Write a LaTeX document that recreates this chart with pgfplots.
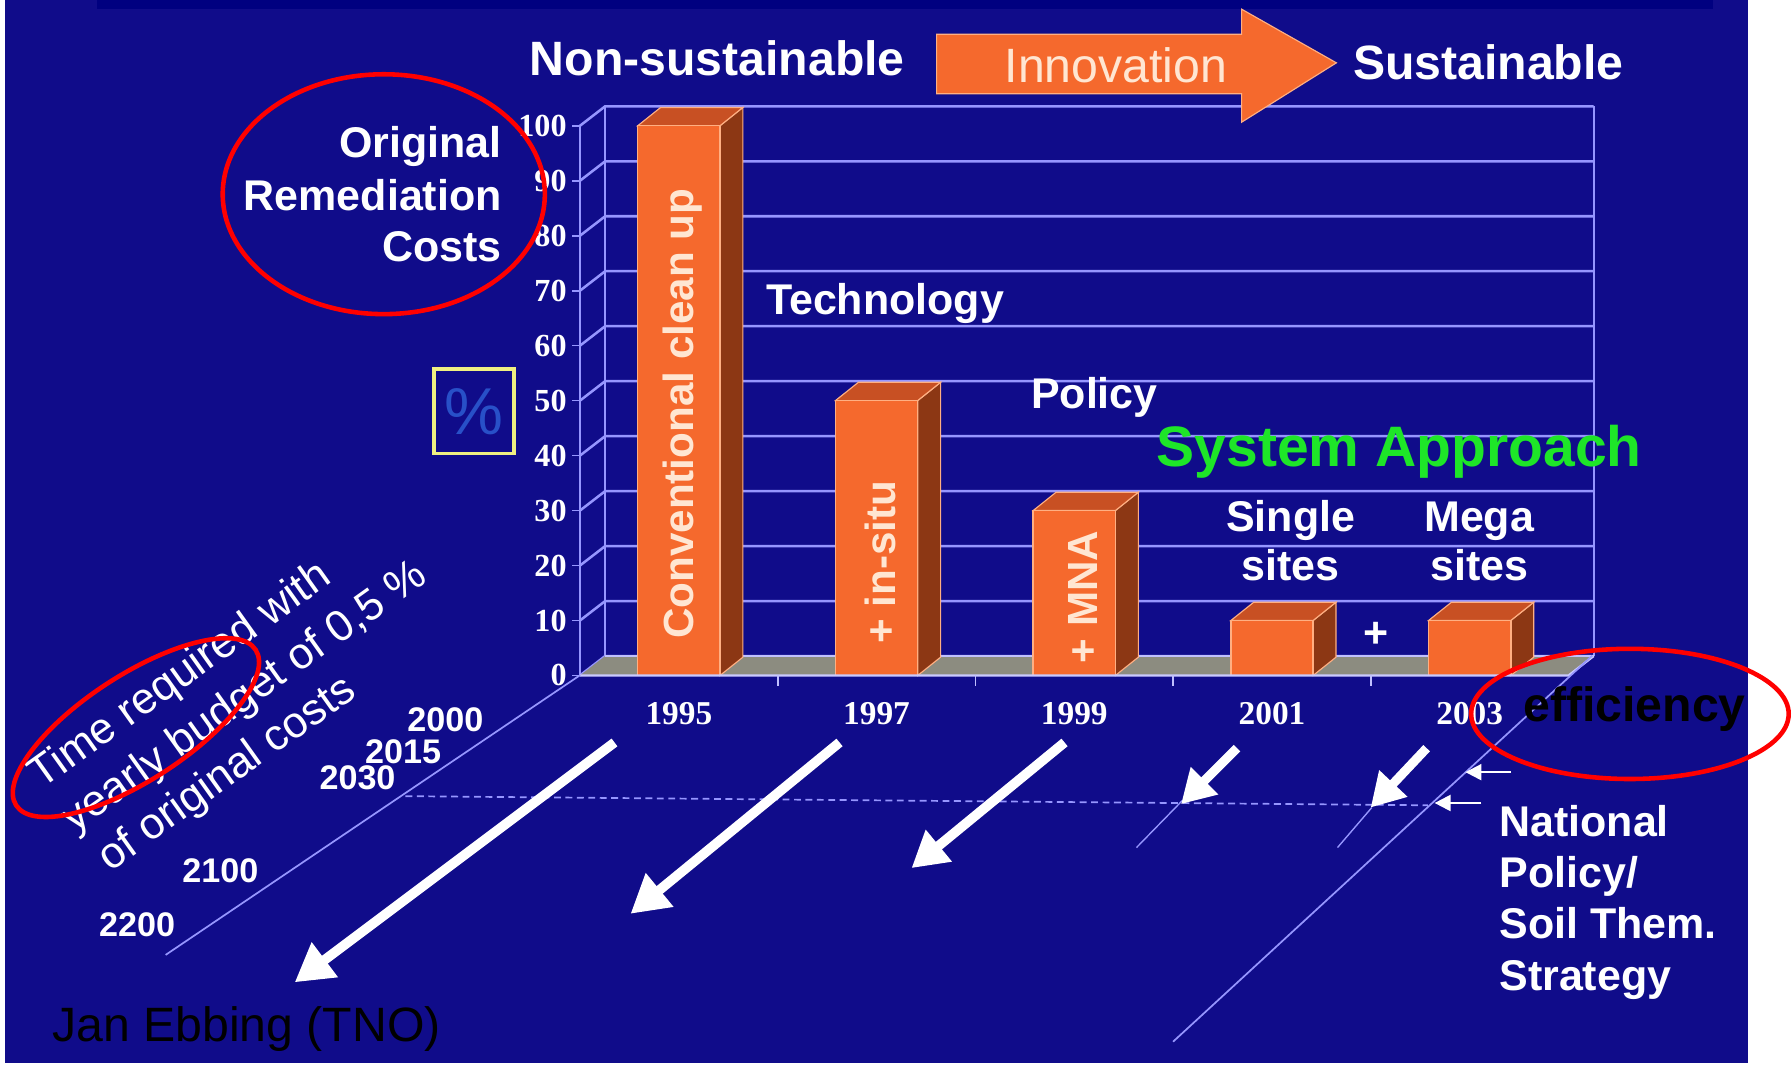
\documentclass[border=0pt]{standalone}
\usepackage{fontspec}
\setmainfont{Liberation Sans}
\newfontfamily\tnr{Liberation Serif}
\usepackage{pgfplots}
\pgfplotsset{compat=1.18}
\usetikzlibrary{arrows.meta}
\definecolor{bg}{RGB}{16,12,138}
\definecolor{band}{RGB}{0,0,128}
\definecolor{gridc}{RGB}{150,150,255}
\definecolor{ofront}{RGB}{245,105,45}
\definecolor{otop}{RGB}{200,80,35}
\definecolor{oside}{RGB}{140,55,20}
\definecolor{oedge}{RGB}{255,175,130}
\definecolor{floorc}{RGB}{140,140,128}
\definecolor{sysgreen}{RGB}{30,230,40}
\definecolor{pct}{RGB}{40,80,200}
\definecolor{ybox}{RGB}{240,240,130}
\definecolor{bartext}{RGB}{255,230,210}
\newcommand{\fsz}[1]{\fontsize{#1}{#1}\selectfont}
\begin{document}
\begin{tikzpicture}
\useasboundingbox (0,0) rectangle (15.68cm,-9.31cm);
\begin{scope}[x=0.01cm,y=-0.01cm]
\fill[white] (0,0) rectangle (1568,931);
\fill[bg] (4,0) rectangle (1530,931);
\fill[band] (85,0) rectangle (1500,8);
\end{scope}

\begin{axis}[at={(5.075cm,-5.91cm)}, anchor=south west, scale only axis,
  width=8.65cm, height=4.81cm, xmin=-0.5, xmax=4.5, ymin=0, ymax=100,
  clip=false, hide axis]
% back wall grid and side connectors
\pgfplotsinvokeforeach{0,10,...,100}{
  \draw[gridc, line width=0.022cm] (axis cs:-0.5,#1) -- ([shift={(0.22cm,0.17cm)}]axis cs:-0.5,#1) -- ([shift={(0.22cm,0.17cm)}]axis cs:4.5,#1);
  \draw[gridc, line width=0.015cm] (axis cs:-0.5,#1) -- ([xshift=-0.07cm]axis cs:-0.5,#1);
  \node[anchor=east, white, font=\tnr\bfseries\fsz{8pt}, inner sep=0pt] at ([xshift=-0.11cm]axis cs:-0.5,#1) {#1};
}
\draw[gridc, line width=0.02cm] ([shift={(0.22cm,0.17cm)}]axis cs:-0.5,0) -- ([shift={(0.22cm,0.17cm)}]axis cs:-0.5,100);
\draw[gridc, line width=0.02cm] ([shift={(0.22cm,0.17cm)}]axis cs:4.5,0) -- ([shift={(0.22cm,0.17cm)}]axis cs:4.5,100);
\draw[gridc, line width=0.02cm] (axis cs:-0.5,0) -- (axis cs:-0.5,100);
% floor
\fill[floorc] (axis cs:-0.5,0) -- (axis cs:4.5,0) -- ([shift={(0.22cm,0.17cm)}]axis cs:4.5,0) -- ([shift={(0.22cm,0.17cm)}]axis cs:-0.5,0) -- cycle;
\draw[gridc!60!white, line width=0.02cm] ([shift={(0.22cm,0.17cm)}]axis cs:-0.5,0) -- ([shift={(0.22cm,0.17cm)}]axis cs:4.5,0);
% bar sides and tops
\addplot[fill=oside, draw=oedge, line width=0.01cm] coordinates {(0.208,0) (0.324,3.33) (0.324,103.33) (0.208,100)} -- cycle;
\addplot[fill=otop, draw=oedge, line width=0.01cm] coordinates {(-0.208,100) (-0.092,103.33) (0.324,103.33) (0.208,100)} -- cycle;
\addplot[fill=oside, draw=oedge, line width=0.01cm] coordinates {(1.208,0) (1.324,3.33) (1.324,53.33) (1.208,50)} -- cycle;
\addplot[fill=otop, draw=oedge, line width=0.01cm] coordinates {(0.792,50) (0.908,53.33) (1.324,53.33) (1.208,50)} -- cycle;
\addplot[fill=oside, draw=oedge, line width=0.01cm] coordinates {(2.208,0) (2.324,3.33) (2.324,33.33) (2.208,30)} -- cycle;
\addplot[fill=otop, draw=oedge, line width=0.01cm] coordinates {(1.792,30) (1.908,33.33) (2.324,33.33) (2.208,30)} -- cycle;
\addplot[fill=oside, draw=oedge, line width=0.01cm] coordinates {(3.208,0) (3.324,3.33) (3.324,13.33) (3.208,10)} -- cycle;
\addplot[fill=otop, draw=oedge, line width=0.01cm] coordinates {(2.792,10) (2.908,13.33) (3.324,13.33) (3.208,10)} -- cycle;
\addplot[fill=oside, draw=oedge, line width=0.01cm] coordinates {(4.208,0) (4.324,3.33) (4.324,13.33) (4.208,10)} -- cycle;
\addplot[fill=otop, draw=oedge, line width=0.01cm] coordinates {(3.792,10) (3.908,13.33) (4.324,13.33) (4.208,10)} -- cycle;
% bar fronts
\addplot[ybar, bar width=0.72cm, fill=ofront, draw=oedge, line width=0.012cm] coordinates {(0,100) (1,50) (2,30) (3,10) (4,10)};
% front floor edge and ticks
\draw[gridc!50!white, line width=0.02cm] (axis cs:-0.5,0) -- (axis cs:4.5,0) -- ([shift={(0.22cm,0.17cm)}]axis cs:4.5,0);
\pgfplotsinvokeforeach{0.5,1.5,2.5,3.5}{
  \draw[gridc!60!white, line width=0.015cm] (axis cs:#1,0) -- ([yshift=-0.09cm]axis cs:#1,0);
}
% year labels
\node[anchor=base, white, font=\tnr\bfseries\fsz{8.3pt}] at ([yshift=-0.43cm]axis cs:0,0) {1995};
\node[anchor=base, white, font=\tnr\bfseries\fsz{8.3pt}] at ([yshift=-0.43cm]axis cs:1,0) {1997};
\node[anchor=base, white, font=\tnr\bfseries\fsz{8.3pt}] at ([yshift=-0.43cm]axis cs:2,0) {1999};
\node[anchor=base, white, font=\tnr\bfseries\fsz{8.3pt}] at ([yshift=-0.43cm]axis cs:3,0) {2001};
\node[anchor=base, white, font=\tnr\bfseries\fsz{8.3pt}] at ([yshift=-0.43cm]axis cs:4,0) {2003};
% bar texts
\node[rotate=90, bartext, font=\bfseries\fsz{10.5pt}] at (axis cs:0.02,47.6) {Conventional clean up};
\node[rotate=90, bartext, font=\bfseries\fsz{10.5pt}] at (axis cs:1.017,20.6) {+ in-situ};
\node[rotate=90, bartext, font=\bfseries\fsz{10.5pt}] at (axis cs:2.046,14.3) {+ MNA};
\end{axis}

\begin{scope}[x=0.01cm,y=-0.01cm]
% diagonal lines
\draw[gridc, line width=0.015cm] (508,591) -- (145,836);
\draw[gridc, line width=0.015cm] (1394,574) -- (1027,912);
\draw[gridc, line width=0.015cm, dash pattern=on 0.06cm off 0.04cm] (355,697) -- (1250,705);
\draw[gridc, line width=0.012cm] (1035,701) -- (995,742);
\draw[gridc, line width=0.012cm] (1201,707) -- (1171,742);
% big white arrows
\draw[white, line width=0.085cm, -{Triangle[length=0.33cm, width=0.36cm]}] (538,650) -- (258,860);
\draw[white, line width=0.085cm, -{Triangle[length=0.33cm, width=0.36cm]}] (735,650) -- (552,800);
\draw[white, line width=0.085cm, -{Triangle[length=0.31cm, width=0.34cm]}] (932,650) -- (798,760);
\draw[white, line width=0.08cm, -{Triangle[length=0.29cm, width=0.32cm]}] (1083,655) -- (1034,704);
\draw[white, line width=0.08cm, -{Triangle[length=0.29cm, width=0.32cm]}] (1249,655) -- (1200,707);
% small arrows
\draw[white, line width=0.02cm, -{Triangle[length=0.14cm, width=0.14cm]}] (1323,676) -- (1283,676);
\draw[white, line width=0.02cm, -{Triangle[length=0.14cm, width=0.14cm]}] (1297,703) -- (1256,703);
% innovation arrow
\fill[ofront, draw=oedge, line width=0.01cm] (820,30) -- (1087,30) -- (1087,8) -- (1170,55) -- (1087,107) -- (1087,82) -- (820,82) -- cycle;
\node[anchor=base, font=\fsz{12pt}, text={rgb,255:red,255;green,230;blue,210}] at (977,72) {Innovation};
\node[anchor=base, white, font=\bfseries\fsz{12pt}] at (628,66) {Non-sustainable};
\node[anchor=base, white, font=\bfseries\fsz{12pt}] at (1303,70) {Sustainable};
% left titles
\node[anchor=base east, white, font=\bfseries\fsz{10.7pt}, inner sep=0pt] at (440,138) {Original};
\node[anchor=base east, white, font=\bfseries\fsz{10.7pt}, inner sep=0pt] at (440,184) {Remediation};
\node[anchor=base east, white, font=\bfseries\fsz{10.7pt}, inner sep=0pt] at (440,229) {Costs};
% percent box
\draw[ybox, line width=0.03cm] (380,323) rectangle (450,397);
\node[pct, font=\fsz{16.5pt}] at (415,360) {\%};
% inner labels
\node[anchor=base west, white, font=\bfseries\fsz{10.7pt}, inner sep=0pt] at (670,275) {Technology};
\node[anchor=base west, white, font=\bfseries\fsz{10.7pt}, inner sep=0pt] at (902,358) {Policy};
\node[anchor=base west, sysgreen, font=\bfseries\fsz{14.2pt}, inner sep=0pt] at (1012,408) {System Approach};
\node[anchor=base, white, font=\bfseries\fsz{10.7pt}, inner sep=0pt] at (1130,465) {Single};
\node[anchor=base, white, font=\bfseries\fsz{10.7pt}, inner sep=0pt] at (1130,508) {sites};
\node[anchor=base, white, font=\bfseries\fsz{10.7pt}, inner sep=0pt] at (1295,465) {Mega};
\node[anchor=base, white, font=\bfseries\fsz{10.7pt}, inner sep=0pt] at (1295,508) {sites};
\node[white, font=\bfseries\fsz{10.7pt}, inner sep=0pt] at (1205,556) {+};
% year depth labels
\node[anchor=base, white, font=\bfseries\fsz{8.5pt}, inner sep=0pt] at (390,640) {2000};
\node[anchor=base, white, font=\bfseries\fsz{8.5pt}, inner sep=0pt] at (353,668) {2015};
\node[anchor=base, white, font=\bfseries\fsz{8.5pt}, inner sep=0pt] at (313,691) {2030};
\node[anchor=base, white, font=\bfseries\fsz{8.5pt}, inner sep=0pt] at (193,773) {2100};
\node[anchor=base, white, font=\bfseries\fsz{8.5pt}, inner sep=0pt] at (120,820) {2200};
% rotated caption
\node[anchor=base west, rotate=35.5, white, font=\fsz{10.9pt}, inner sep=0pt] at (36,692) {Time required with};
\node[anchor=base west, rotate=35.5, white, font=\fsz{10.9pt}, inner sep=0pt] at (65,730) {yearly budget of 0,5 \%};
\node[anchor=base west, rotate=35.5, white, font=\fsz{10.9pt}, inner sep=0pt] at (96,764) {of original costs};
% right labels
\node[anchor=base west, white, font=\bfseries\fsz{10.7pt}, inner sep=0pt] at (1312,732) {National};
\node[anchor=base west, white, font=\bfseries\fsz{10.7pt}, inner sep=0pt] at (1312,777) {Policy/};
\node[anchor=base west, white, font=\bfseries\fsz{10.7pt}, inner sep=0pt] at (1312,822) {Soil Them.};
\node[anchor=base west, white, font=\bfseries\fsz{10.7pt}, inner sep=0pt] at (1312,867) {Strategy};
\node[anchor=base west, black, font=\bfseries\fsz{12pt}, inner sep=0pt] at (1333,632) {efficiency};
\node[anchor=base west, black, font=\fsz{12pt}, inner sep=0pt] at (45,912) {Jan Ebbing (TNO)};
% red ellipses
\draw[red, line width=0.04cm] (336,170) ellipse [x radius=141, y radius=105];
\draw[red, line width=0.04cm, rotate around={33:(119,637)}] (119,637) ellipse [x radius=125, y radius=46];
\draw[red, line width=0.04cm] (1427,625) ellipse [x radius=139, y radius=57];
\end{scope}
\end{tikzpicture}
\end{document}
